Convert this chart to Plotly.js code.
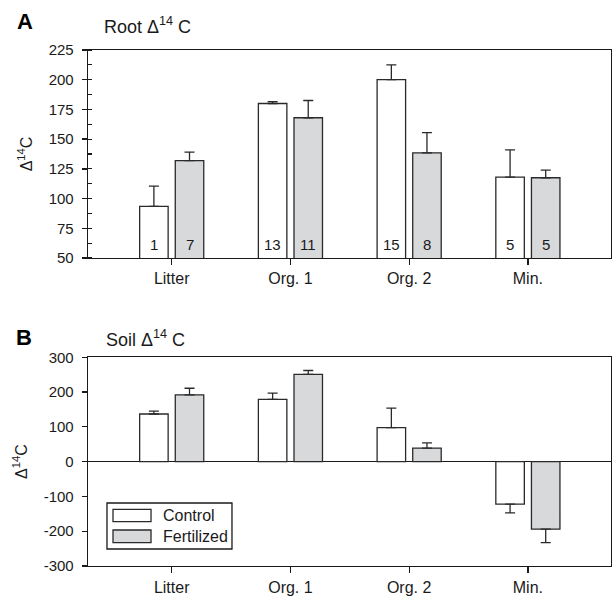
<!DOCTYPE html>
<html>
<head>
<meta charset="utf-8">
<script src="https://cdn.plot.ly/plotly-3.0.1.min.js"></script>
<style>html,body{margin:0;padding:0;background:#fff;}#chart{width:613px;height:597px;}</style>
</head>
<body>
<div id="chart"></div>
<script>
// ---- data ----
const categories = ['Litter', 'Org. 1', 'Org. 2', 'Min.'];
const seriesNames = ['Control', 'Fertilized'];
const seriesColors = ['#ffffff', '#d8d9db'];

const rootControl = [93.5, 180, 200, 118];
const rootControlErr = [17, 1.5, 12.5, 23];
const rootFert = [132, 168, 138.5, 117.5];
const rootFertErr = [7, 14.5, 17, 6.5];
const rootNControl = [1, 13, 15, 5];
const rootNFert = [7, 11, 8, 5];

const soilControl = [137, 179, 98, -122];
const soilControlErr = [8, 18, 56, 25];
const soilFert = [192, 251, 39, -194];
const soilFertErr = [19, 11, 15, 39];

const rootTicks = [50, 75, 100, 125, 150, 175, 200, 225];
const soilTicks = [-300, -200, -100, 0, 100, 200, 300];

const panelTitles = ['Root Δ<sup>14</sup> C', 'Soil Δ<sup>14</sup> C'];
const panelLetters = ['A', 'B'];
const yTitle = 'Δ<sup>14</sup>C';

// ---- helpers ----
const FONT = 'Liberation Sans, Arial, Helvetica, sans-serif';
const INK = '#1a1a1a';

function errUp(vals, errs) { return errs.map((e, i) => vals[i] >= 0 ? e : 0); }
function errDown(vals, errs) { return errs.map((e, i) => vals[i] < 0 ? e : 0); }

function barTrace(vals, errs, idx, xa, ya) {
  return {
    type: 'bar', x: categories, y: vals, name: seriesNames[idx],
    xaxis: xa, yaxis: ya, showlegend: false,
    marker: { color: seriesColors[idx], line: { color: '#2a2a2a', width: 1.3 } },
    error_y: { type: 'data', symmetric: false, array: errUp(vals, errs), arrayminus: errDown(vals, errs),
      color: '#2a2a2a', thickness: 1.3, width: 5 }
  };
}

const traces = [
  barTrace(rootControl, rootControlErr, 0, 'x', 'y'),
  barTrace(rootFert, rootFertErr, 1, 'x', 'y'),
  barTrace(soilControl, soilControlErr, 0, 'x2', 'y2'),
  barTrace(soilFert, soilFertErr, 1, 'x2', 'y2')
];

const rootRange = [rootTicks[0], rootTicks[rootTicks.length - 1]];
const soilRange = [soilTicks[0], soilTicks[soilTicks.length - 1]];
const minorStep = (rootTicks[1] - rootTicks[0]) / 2;
const rightMinor = [];
for (let v = rootRange[0] + minorStep; v < rootRange[1]; v += 2 * minorStep) rightMinor.push(v);

const xRange = [-0.705, 3.70];
const xCommon = {
  type: 'category', range: xRange, showline: true, linecolor: INK, linewidth: 1.3, mirror: true,
  ticks: 'outside', ticklen: 6, tickwidth: 1.3, tickcolor: INK, showgrid: false, zeroline: false,
  tickfont: { family: FONT, size: 16, color: INK }, ticklabelstandoff: 0, fixedrange: true
};
const yCommon = {
  showline: true, linecolor: INK, linewidth: 1.3, mirror: true, ticks: 'outside', ticklen: 5,
  tickwidth: 1.3, tickcolor: INK, showgrid: false, tickmode: 'array',
  tickfont: { family: FONT, size: 15, color: INK }, ticklabelstandoff: 5,
  title: { text: yTitle, font: { family: FONT, size: 16, color: INK }, standoff: 12 }
};

const annotations = [];
// count labels at the foot of the root bars
const nSets = [rootNControl, rootNFert];
nSets.forEach((arr, s) => {
  arr.forEach((n, i) => {
    annotations.push({ x: categories[i], y: rootRange[0], xref: 'x', yref: 'y', text: String(n),
      showarrow: false, xshift: s === 0 ? -17.8 : 17.8, yshift: 14, yanchor: 'middle',
      font: { family: FONT, size: 15, color: INK } });
  });
});
// panel titles and letters
annotations.push({ xref: 'paper', yref: 'paper', x: 0.026, y: 1.047, xanchor: 'left', yanchor: 'middle',
  text: panelTitles[0], showarrow: false, font: { family: FONT, size: 18, color: INK } });
annotations.push({ xref: 'paper', yref: 'paper', x: 0.030, y: 0.440, xanchor: 'left', yanchor: 'middle',
  text: panelTitles[1], showarrow: false, font: { family: FONT, size: 18, color: INK } });
annotations.push({ xref: 'paper', yref: 'paper', x: -0.1205, y: 1.0556, xanchor: 'center', yanchor: 'middle',
  text: '<b>' + panelLetters[0] + '</b>', showarrow: false, font: { family: FONT, size: 22, color: '#000' } });
annotations.push({ xref: 'paper', yref: 'paper', x: -0.122, y: 0.4419, xanchor: 'center', yanchor: 'middle',
  text: '<b>' + panelLetters[1] + '</b>', showarrow: false, font: { family: FONT, size: 22, color: '#000' } });

// custom legend (wide swatches) inside panel B
const shapes = [{ type: 'rect', xref: 'paper', yref: 'paper', x0: 0.0363, x1: 0.2753, y0: 0.0329, y1: 0.1221,
  line: { color: INK, width: 1.3 }, fillcolor: '#ffffff' }];
const legendRows = [{ y0: 0.0859, y1: 0.1099, ty: 0.0979 }, { y0: 0.0452, y1: 0.0698, ty: 0.0572 }];
seriesNames.forEach((nm, i) => {
  shapes.push({ type: 'rect', xref: 'paper', yref: 'paper', x0: 0.0478, x1: 0.1205,
    y0: legendRows[i].y0, y1: legendRows[i].y1, line: { color: '#2a2a2a', width: 1.3 }, fillcolor: seriesColors[i] });
  annotations.push({ xref: 'paper', yref: 'paper', x: 0.1396, y: legendRows[i].ty, xanchor: 'left', yanchor: 'middle',
    text: nm, showarrow: false, font: { family: FONT, size: 16, color: INK } });
});

const layout = {
  width: 613, height: 597,
  margin: { l: 88, r: 2, t: 50, b: 31 },
  paper_bgcolor: '#ffffff', plot_bgcolor: '#ffffff',
  barmode: 'group', bargap: 0.4, bargroupgap: 0.2,
  showlegend: false,
  font: { family: FONT, color: INK },
  xaxis: Object.assign({}, xCommon, { anchor: 'y', domain: [0, 1] }),
  xaxis2: Object.assign({}, xCommon, { anchor: 'y2', domain: [0, 1] }),
  yaxis: Object.assign({}, yCommon, { anchor: 'x', domain: [0.5969, 1], range: rootRange,
    tickvals: rootTicks, ticktext: rootTicks.map(String), zeroline: false,
    minor: { tickmode: 'linear', dtick: minorStep, tick0: 0, ticks: 'inside', ticklen: 4, tickwidth: 1.2, tickcolor: INK, showgrid: false } }),
  yaxis3: { overlaying: 'y', side: 'right', anchor: 'x', range: rootRange, tickmode: 'array', tickvals: rightMinor,
    ticks: 'inside', ticklen: 4, tickwidth: 1.2, tickcolor: INK, showticklabels: false, showgrid: false,
    zeroline: false, showline: false, fixedrange: true },
  yaxis2: Object.assign({}, yCommon, { anchor: 'x2', domain: [0, 0.4045], range: soilRange,
    tickvals: soilTicks, ticktext: soilTicks.map(String),
    zeroline: true, zerolinecolor: INK, zerolinewidth: 1.3 }),
  annotations: annotations,
  shapes: shapes
};

Plotly.newPlot('chart', traces, layout, { staticPlot: true, displayModeBar: false });
</script>
</body>
</html>
